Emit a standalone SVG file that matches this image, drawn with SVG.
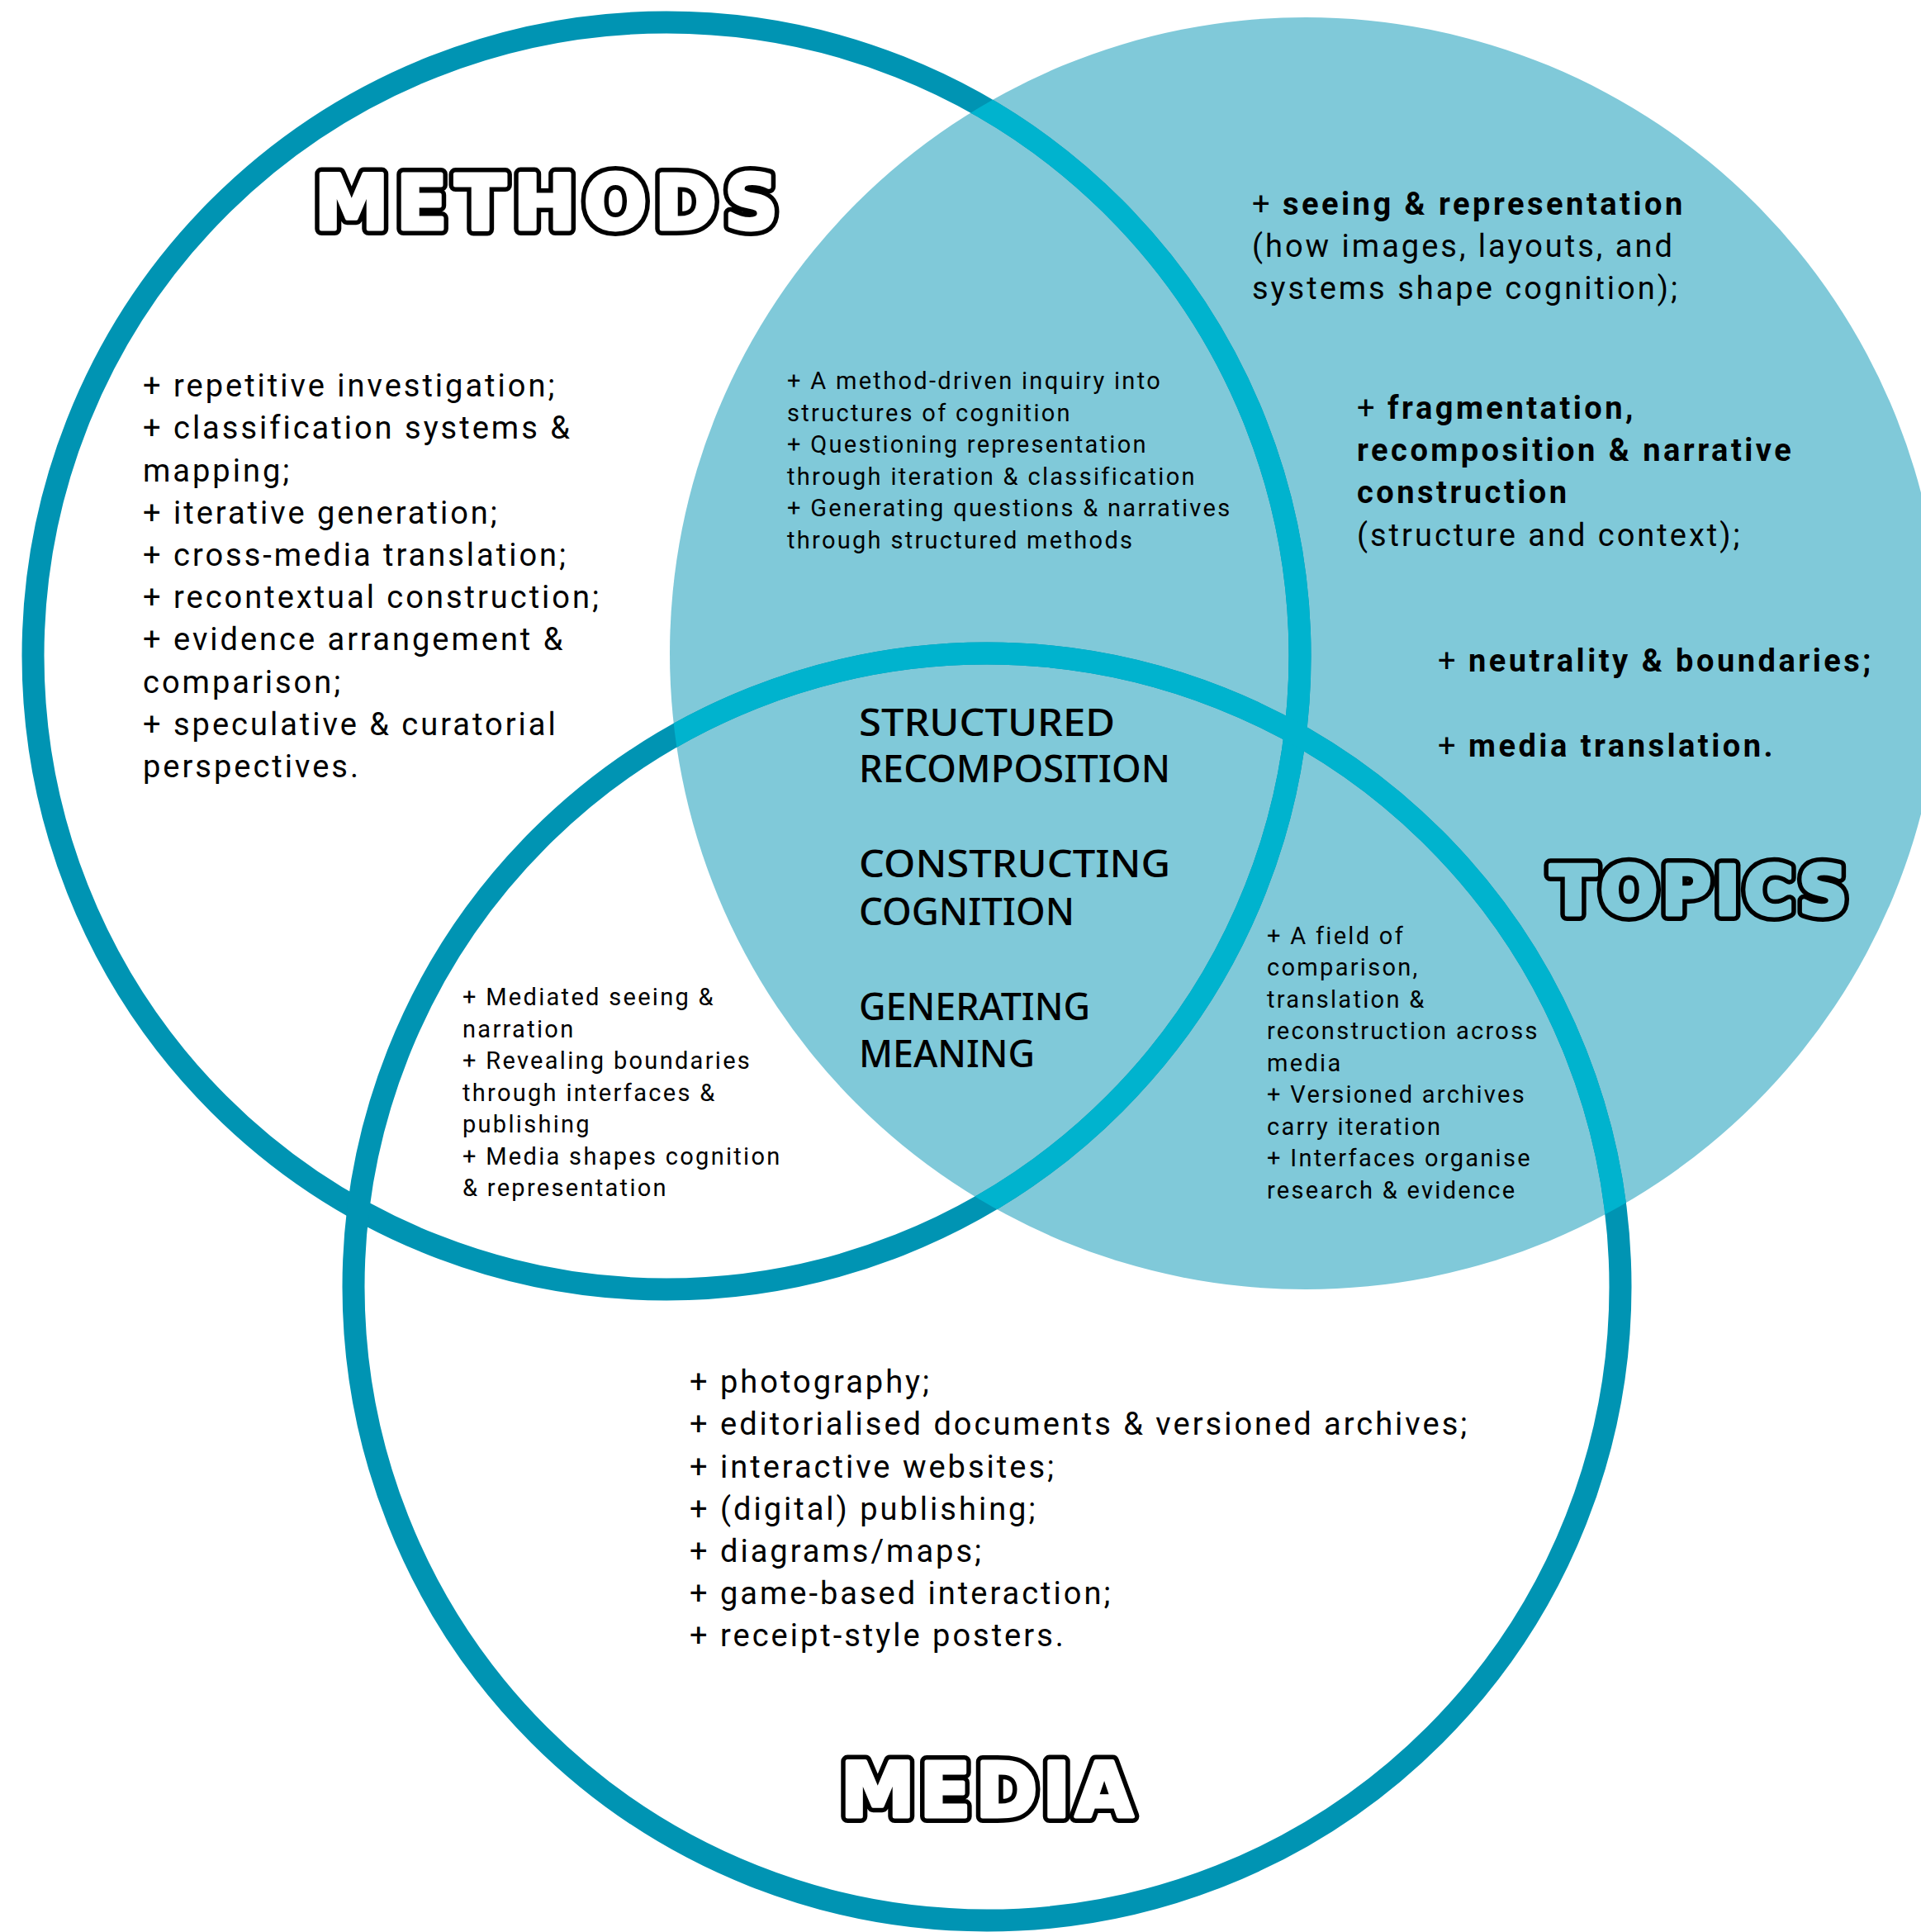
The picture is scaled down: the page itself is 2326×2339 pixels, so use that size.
<svg xmlns="http://www.w3.org/2000/svg" width="2326" height="2339" viewBox="0 0 2326 2339">
<defs>
<clipPath id="topicsClip"><circle cx="1581" cy="791" r="770"/></clipPath>
<style>
.ring{fill:none;stroke:#0094B3;stroke-width:27}
.ring-in{fill:none;stroke:#00B3CE;stroke-width:27}
.body{font-family:Roboto,"Liberation Sans",sans-serif;font-size:38px;fill:#000;letter-spacing:3px}
.small{font-family:Roboto,"Liberation Sans",sans-serif;font-size:29px;fill:#000;letter-spacing:2.3px}
.b{font-weight:700;letter-spacing:3.5px}
.head{font-family:"DejaVu Sans","Liberation Sans",sans-serif;font-weight:700;font-size:90px}
.h-out{fill:#000;stroke:#000;stroke-width:16;stroke-linejoin:round}
.h-in{fill:#fff;stroke:#fff;stroke-width:5;stroke-linejoin:round}
.h-in-blue{fill:#80C9D9;stroke:#80C9D9;stroke-width:5;stroke-linejoin:round}
.hand{font-family:"Noto Sans","DejaVu Sans",sans-serif;font-weight:500;font-size:45px;fill:#000}
</style>
<text id="t-methods" class="head" x="381" y="277" textLength="561" lengthAdjust="spacing">METHODS</text>
<text id="t-topics" class="head" x="1877" y="1107" textLength="360" lengthAdjust="spacing" style="font-size:82px">TOPICS</text>
<text id="t-media" class="head" x="1018" y="2199" textLength="354" lengthAdjust="spacing">MEDIA</text>
</defs>
<rect width="2326" height="2339" fill="#fff"/>
<g id="topics-area"><circle cx="1581" cy="791" r="770" fill="#80C9D9"/></g>
<g id="rings">
<circle class="ring" cx="807" cy="794" r="767"/>
<circle class="ring" cx="1195" cy="1558" r="767"/>
<g clip-path="url(#topicsClip)">
<circle class="ring-in" cx="807" cy="794" r="767"/>
<circle class="ring-in" cx="1195" cy="1558" r="767"/>
</g>
</g>

<g id="methods">
<use href="#t-methods" class="h-out"/>
<use href="#t-methods" class="h-in"/>
<text class="body">
<tspan x="173" y="480">+ repetitive investigation;</tspan>
<tspan x="173" y="531">+ classification systems &amp;</tspan>
<tspan x="173" y="583">mapping;</tspan>
<tspan x="173" y="634">+ iterative generation;</tspan>
<tspan x="173" y="685">+ cross-media translation;</tspan>
<tspan x="173" y="736">+ recontextual construction;</tspan>
<tspan x="173" y="787">+ evidence arrangement &amp;</tspan>
<tspan x="173" y="839">comparison;</tspan>
<tspan x="173" y="890">+ speculative &amp; curatorial</tspan>
<tspan x="173" y="941">perspectives.</tspan>
</text>
</g>

<g id="methods-topics">
<text class="small">
<tspan x="953" y="471">+ A method-driven inquiry into</tspan>
<tspan x="953" y="510">structures of cognition</tspan>
<tspan x="953" y="548">+ Questioning representation</tspan>
<tspan x="953" y="587">through iteration &amp; classification</tspan>
<tspan x="953" y="625">+ Generating questions &amp; narratives</tspan>
<tspan x="953" y="664">through structured methods</tspan>
</text>
</g>

<g id="topics">
<use href="#t-topics" class="h-out"/>
<use href="#t-topics" class="h-in-blue"/>
<text class="body">
<tspan x="1516" y="260">+ <tspan class="b">seeing &amp; representation</tspan></tspan>
<tspan x="1516" y="311">(how images, layouts, and</tspan>
<tspan x="1516" y="362">systems shape cognition);</tspan>
<tspan x="1643" y="507">+ <tspan class="b">fragmentation,</tspan></tspan>
<tspan x="1643" y="558" class="b">recomposition &amp; narrative</tspan>
<tspan x="1643" y="609" class="b">construction</tspan>
<tspan x="1643" y="661">(structure and context);</tspan>
<tspan x="1741" y="813">+ <tspan class="b">neutrality &amp; boundaries;</tspan></tspan>
<tspan x="1741" y="916">+ <tspan class="b">media translation.</tspan></tspan>
</text>
</g>

<g id="center">
<text class="hand" x="1040" y="891" textLength="310" lengthAdjust="spacingAndGlyphs">STRUCTURED</text>
<text class="hand" x="1040" y="947" textLength="377" lengthAdjust="spacingAndGlyphs">RECOMPOSITION</text>
<text class="hand" x="1040" y="1062" textLength="377" lengthAdjust="spacingAndGlyphs">CONSTRUCTING</text>
<text class="hand" x="1040" y="1120" textLength="261" lengthAdjust="spacingAndGlyphs">COGNITION</text>
<text class="hand" x="1040" y="1235" textLength="280" lengthAdjust="spacingAndGlyphs">GENERATING</text>
<text class="hand" x="1040" y="1292" textLength="213" lengthAdjust="spacingAndGlyphs">MEANING</text>
</g>

<g id="methods-media">
<text class="small">
<tspan x="560" y="1217">+ Mediated seeing &amp;</tspan>
<tspan x="560" y="1256">narration</tspan>
<tspan x="560" y="1294">+ Revealing boundaries</tspan>
<tspan x="560" y="1333">through interfaces &amp;</tspan>
<tspan x="560" y="1371">publishing</tspan>
<tspan x="560" y="1410">+ Media shapes cognition</tspan>
<tspan x="560" y="1448">&amp; representation</tspan>
</text>
</g>

<g id="media-topics">
<text class="small">
<tspan x="1534" y="1143">+ A field of</tspan>
<tspan x="1534" y="1181">comparison,</tspan>
<tspan x="1534" y="1220">translation &amp;</tspan>
<tspan x="1534" y="1258">reconstruction across</tspan>
<tspan x="1534" y="1297">media</tspan>
<tspan x="1534" y="1335">+ Versioned archives</tspan>
<tspan x="1534" y="1374">carry iteration</tspan>
<tspan x="1534" y="1412">+ Interfaces organise</tspan>
<tspan x="1534" y="1451">research &amp; evidence</tspan>
</text>
</g>

<g id="media">
<use href="#t-media" class="h-out"/>
<use href="#t-media" class="h-in"/>
<text class="body">
<tspan x="835" y="1686">+ photography;</tspan>
<tspan x="835" y="1737">+ editorialised documents &amp; versioned archives;</tspan>
<tspan x="835" y="1789">+ interactive websites;</tspan>
<tspan x="835" y="1840">+ (digital) publishing;</tspan>
<tspan x="835" y="1891">+ diagrams/maps;</tspan>
<tspan x="835" y="1942">+ game-based interaction;</tspan>
<tspan x="835" y="1993">+ receipt-style posters.</tspan>
</text>
</g>
</svg>
